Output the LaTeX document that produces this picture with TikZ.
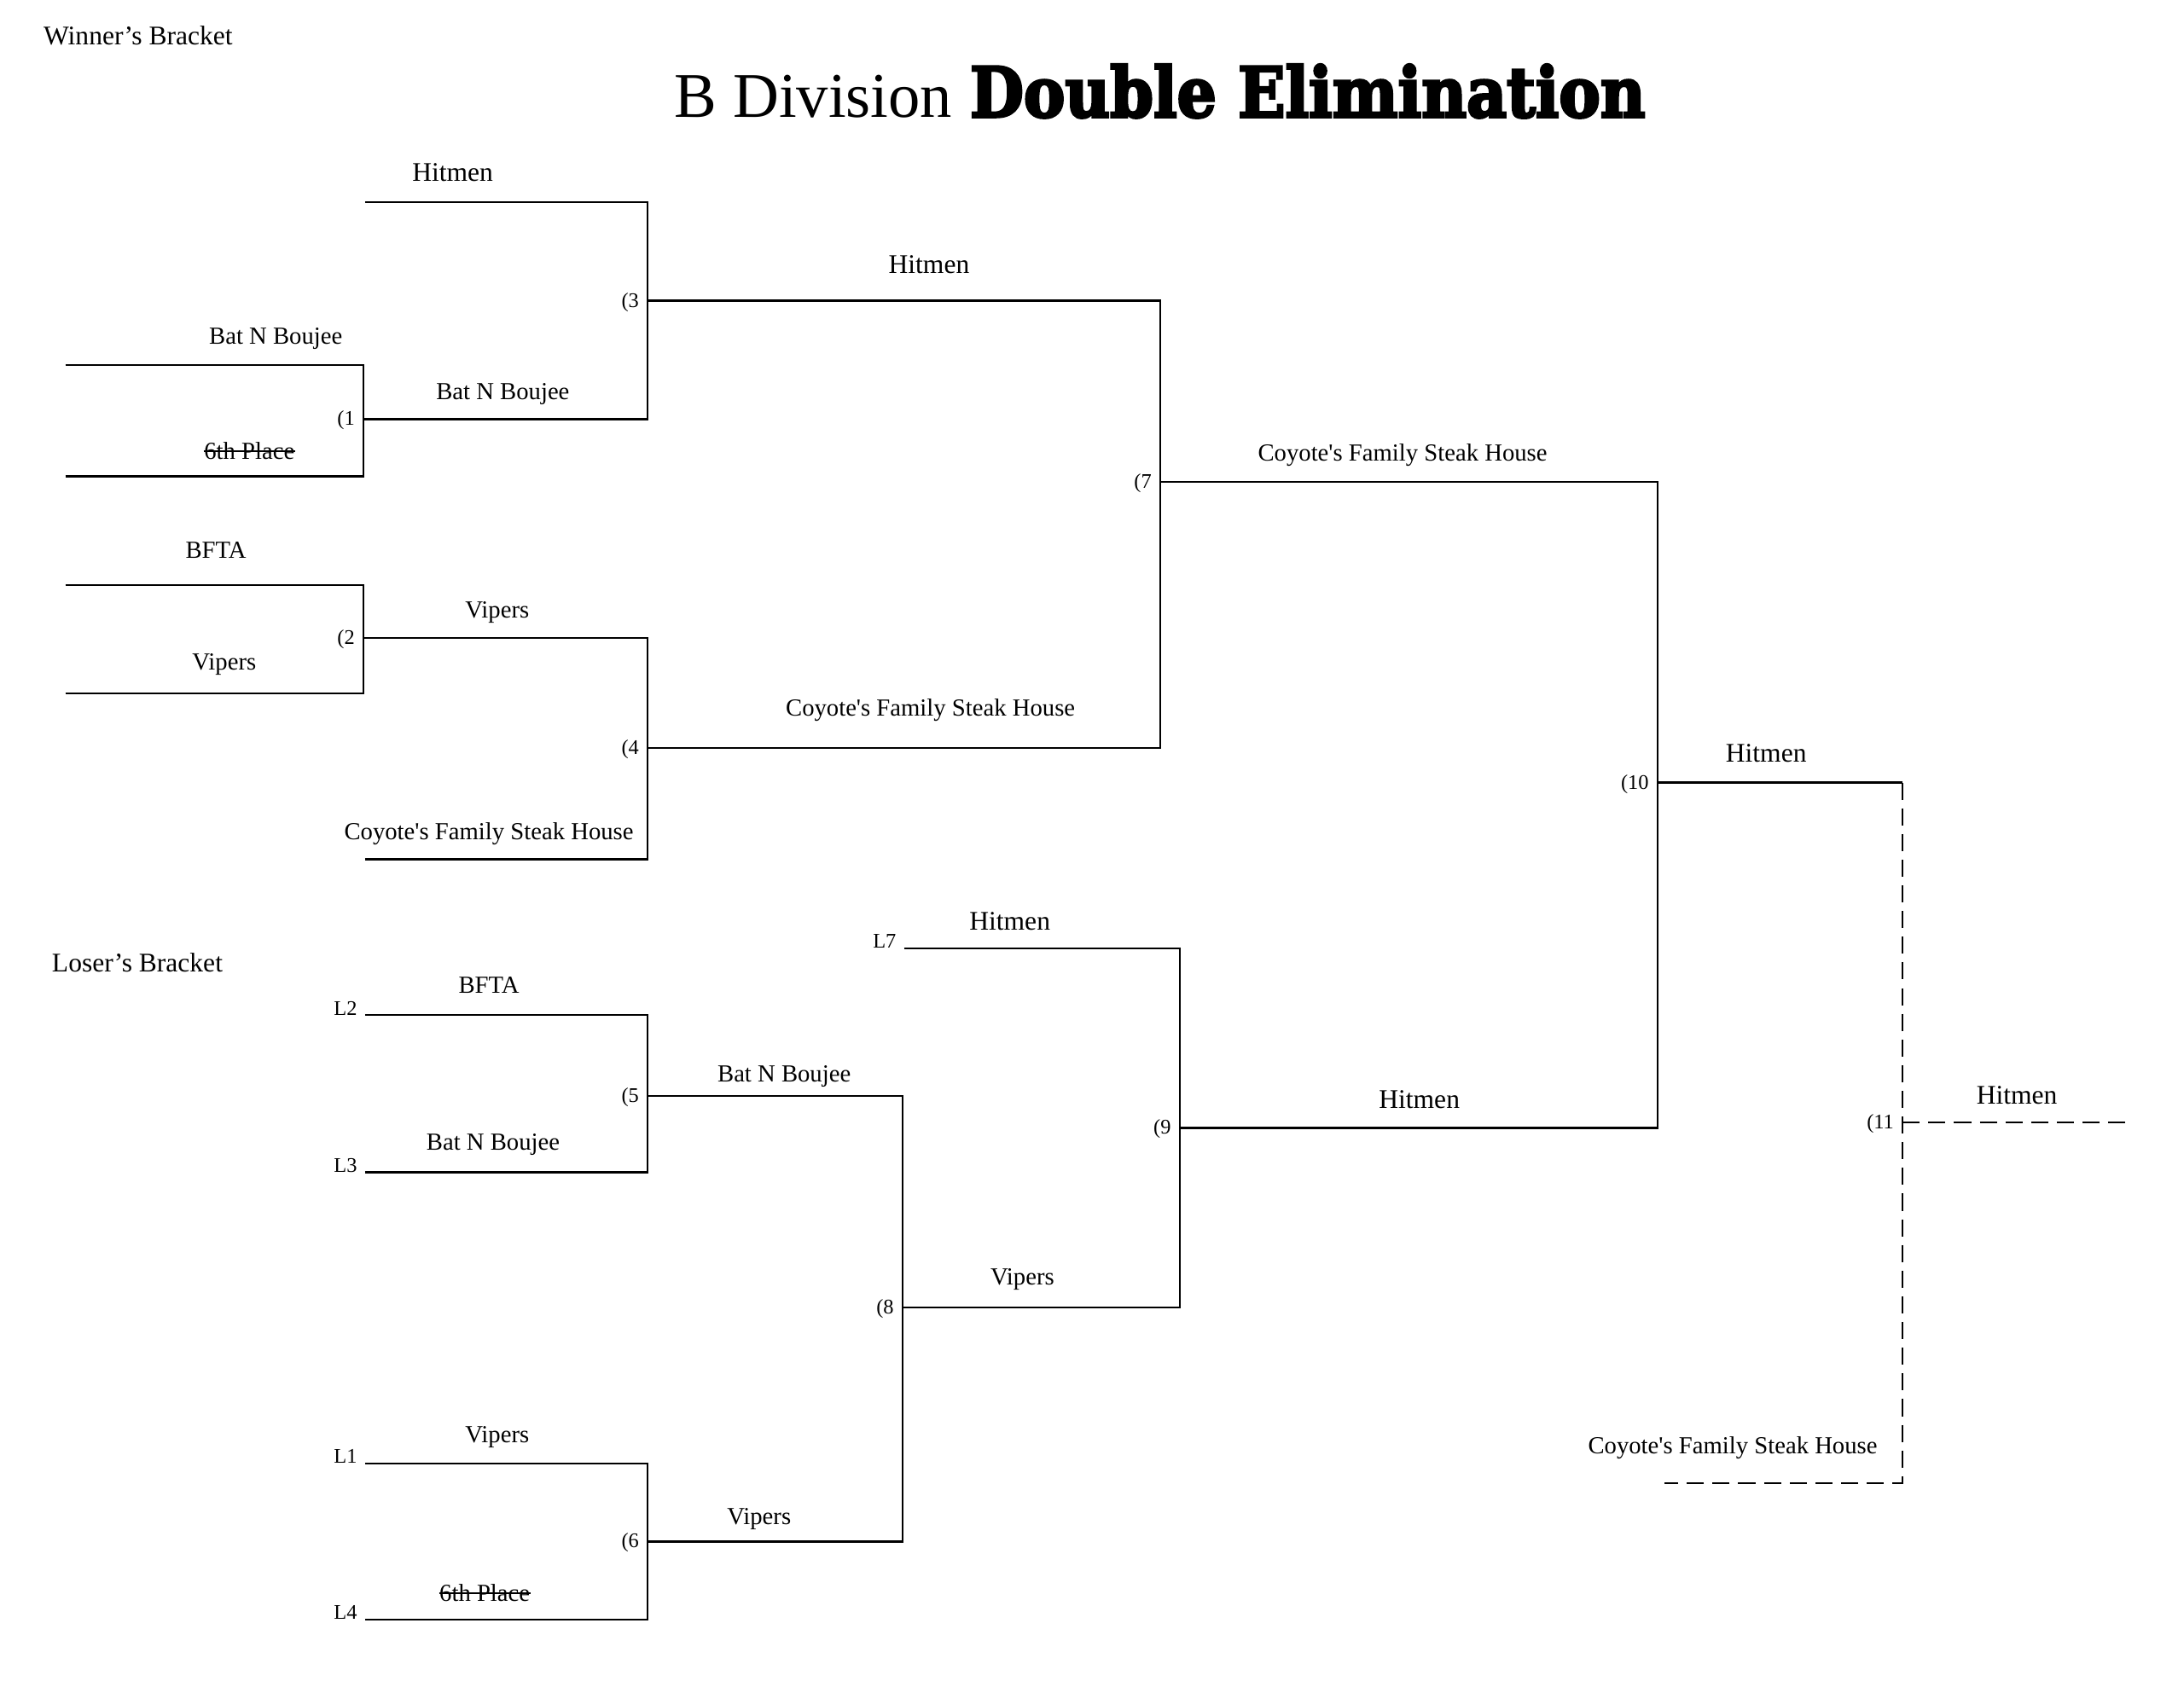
\documentclass[tikz,border=0pt]{standalone}
\usepackage{fontspec}
\setmainfont{Liberation Serif}
\newfontfamily\slabfont[FakeBold=4]{DejaVu Serif}
\usepackage{graphicx}
\tikzset{%
	link/.style     = {line width=0.85pt}, % bracket line
	tbd/.style      = {line width=0.85pt, dash pattern=on 7pt off 3.5pt}, % if needed
	strike/.style   = {line width=0.6pt},
	team/.style     = {anchor=base, inner sep=0pt, font=\fontsize{10}{12}\selectfont},
	bigteam/.style  = {anchor=base, inner sep=0pt, font=\fontsize{11}{13}\selectfont},
	game/.style     = {anchor=base east, inner sep=0pt, xshift=-3.4pt, yshift=-2.6pt,
		font=\fontsize{8.5}{10}\selectfont}, % game number
	slot/.style     = {anchor=base east, inner sep=0pt, xshift=-3pt,
		font=\fontsize{8.5}{10}\selectfont}, % loser slot
	heading/.style  = {anchor=base west, inner sep=0pt, font=\fontsize{11}{13}\selectfont}
}

\begin{document}
\begin{tikzpicture}[x=0.02cm,y=-0.02cm]
			\useasboundingbox (0,0) rectangle (1568,1211.5);

			\node[heading] (wb) at (31,32) {Winner's Bracket};
			\node[heading] (lb) at (37,698) {Loser's Bracket};
			\node[anchor=base west, inner sep=0pt, font=\fontsize{26}{30}\selectfont] (title) at (484,84) {B Division};
			\node[anchor=base west, inner sep=0pt] (titlebold) at (696,84) {\resizebox{276pt}{21.5pt}{\slabfont\bfseries Double Elimination}};

			% games
			\coordinate (w1) at (261,301);
			\coordinate (w2) at (261,458);
			\coordinate (w3) at (465,216);
			\coordinate (w4) at (465,537);
			\coordinate (w7) at (833,346);
			\coordinate (w10) at (1190,562);
			\coordinate (l5) at (465,787);
			\coordinate (l6) at (465,1107);
			\coordinate (l8) at (648,939);
			\coordinate (l9) at (847,810);
			\coordinate (f11) at (1366,806);

			% entries
			\coordinate (bnb) at (47,262);
			\coordinate (six) at (47,342);
			\coordinate (bfta) at (47,420);
			\coordinate (vip) at (47,498);
			\coordinate (hit) at (262,145);
			\coordinate (cfs) at (262,617);
			\coordinate (L2) at (262,729);
			\coordinate (L3) at (262,842);
			\coordinate (L1) at (262,1051);
			\coordinate (L4) at (262,1163);
			\coordinate (L7) at (649,681);
			\coordinate (f11top) at (1366,562);
			\coordinate (f11bot) at (1366,1065);
			\coordinate (f11in) at (1195,1065);
			\coordinate (champ) at (1530,806);

			\draw[link] (bnb) -| (w1);
			\draw[link] (six) -| (w1);
			\draw[link] (bfta) -| (w2);
			\draw[link] (vip) -| (w2);
			\draw[link] (hit) -| (w3);
			\draw[link] (w1) -| (w3);
			\draw[link] (w2) -| (w4);
			\draw[link] (cfs) -| (w4);
			\draw[link] (w3) -| (w7);
			\draw[link] (w4) -| (w7);
			\draw[link] (w7) -| (w10);
			\draw[link] (l9) -| (w10);
			\draw[link] (L2) -| (l5);
			\draw[link] (L3) -| (l5);
			\draw[link] (L1) -| (l6);
			\draw[link] (L4) -| (l6);
			\draw[link] (l5) -| (l8);
			\draw[link] (l6) -| (l8);
			\draw[link] (L7) -| (l9);
			\draw[link] (l8) -| (l9);
			\draw[link] (w10) -- (f11top);
			\draw[tbd] (f11top) -- (f11bot) -- (f11in);
			\draw[tbd] (f11) -- (champ);

			% game numbers
			\node[game] (n1) at (w1) {(1};
			\node[game] (n2) at (w2) {(2};
			\node[game] (n3) at (w3) {(3};
			\node[game] (n4) at (w4) {(4};
			\node[game] (n5) at (l5) {(5};
			\node[game] (n6) at (l6) {(6};
			\node[game] (n7) at (w7) {(7};
			\node[game] (n8) at (l8) {(8};
			\node[game] (n9) at (l9) {(9};
			\node[game] (n10) at (w10) {(10};
			\node[game] (n11) at (f11) {(11};

			\node[slot] (sL2) at (L2) {L2};
			\node[slot] (sL3) at (L3) {L3};
			\node[slot] (sL1) at (L1) {L1};
			\node[slot] (sL4) at (L4) {L4};
			\node[slot] (sL7) at (L7) {L7};

			% winner's bracket teams
			\node[bigteam] (t3a) at (325,130) {Hitmen};
			\node[team] (t1a) at (198,247) {Bat N Boujee};
			\node[team] (t1b) at (179,330) {6th Place};
			\node[team] (t3b) at (361,287) {Bat N Boujee};
			\node[team] (t2a) at (155,401) {BFTA};
			\node[team] (t2b) at (161,481) {Vipers};
			\node[team] (t4a) at (357,444) {Vipers};
			\node[team] (t4b) at (351,603) {Coyote\textquotesingle s Family Steak House};
			\node[bigteam] (t7a) at (667,196) {Hitmen};
			\node[team] (t7b) at (668,514) {Coyote\textquotesingle s Family Steak House};
			\node[team] (t10a) at (1007,331) {Coyote\textquotesingle s Family Steak House};
			\node[bigteam] (t11a) at (1268,547) {Hitmen};
			\node[bigteam] (tch) at (1448,793) {Hitmen};
			\node[team] (t11b) at (1244,1044) {Coyote\textquotesingle s Family Steak House};

			% loser's bracket teams
			\node[team] (t5a) at (351,713) {BFTA};
			\node[team] (t5b) at (354,826) {Bat N Boujee};
			\node[team] (t8a) at (563,777) {Bat N Boujee};
			\node[team] (t6a) at (357,1036) {Vipers};
			\node[team] (t6b) at (348,1150) {6th Place};
			\node[team] (t8b) at (545,1095) {Vipers};
			\node[team] (t9b) at (734,923) {Vipers};
			\node[bigteam] (t9a) at (725,668) {Hitmen};
			\node[bigteam] (t10b) at (1019,796) {Hitmen};

			% crossed out
			\draw[strike] (t1b.west) -- (t1b.east);
			\draw[strike] (t6b.west) -- (t6b.east);
		\end{tikzpicture}
\end{document}
